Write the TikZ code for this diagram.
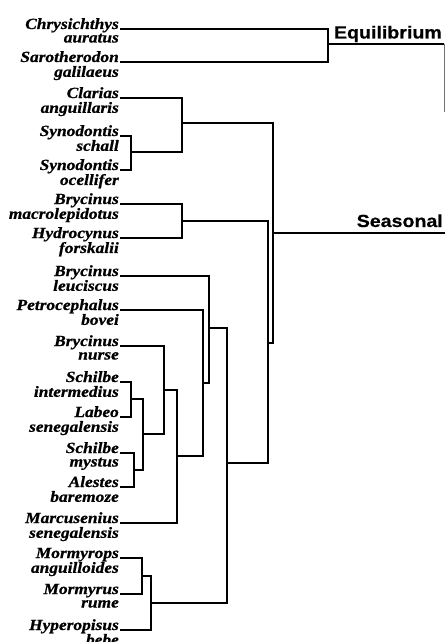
\documentclass[tikz,border=0pt]{standalone}
\usepackage{fontspec}
\setmainfont{Liberation Serif}
\newfontfamily\labfont[FakeStretch=1.12,FakeBold=0.8]{Liberation Serif}
\newfontfamily\grpfont[FakeStretch=1.12,FakeBold=0.5]{Liberation Sans}
\newcommand{\spname}[2]{\begin{tabular}[t]{@{}r@{}}#1\\#2\end{tabular}}
\begin{document}
\begin{tikzpicture}[x=1pt,y=-1pt,
  lab/.style={anchor=base east,inner sep=0pt,font=\labfont\bfseries\itshape\fontsize{15.5}{13.5}\selectfont},
  grp/.style={anchor=base east,inner sep=0pt,font=\grpfont\bfseries\fontsize{17.5}{20}\selectfont},
  br/.style={line width=1.6pt,line cap=rect},
  thinline/.style={line width=1pt,black!55}]
\useasboundingbox (0,0) rectangle (445,642);
% leaf labels and leaf coordinates
\foreach \n/\y/\a/\b in {
  1/29/Chrysichthys/auratus,
  2/62/Sarotherodon/galilaeus,
  3/98/Clarias/anguillaris,
  4/136/Synodontis/schall,
  5/170/Synodontis/ocellifer,
  6/204/Brycinus/macrolepidotus,
  7/238/Hydrocynus/forskalii,
  8/276/Brycinus/leuciscus,
  9/310/Petrocephalus/bovei,
  10/346/Brycinus/nurse,
  11/382/Schilbe/intermedius,
  12/417/Labeo/senegalensis,
  13/453/Schilbe/mystus,
  14/487/Alestes/baremoze,
  15/523/Marcusenius/senegalensis,
  16/558/Mormyrops/anguilloides,
  17/594/Mormyrus/rume,
  18/630/Hyperopisus/bebe}{
  \node[lab] (t\n) at (119,\y) {\spname{\a}{\b}};
  \coordinate (L\n) at (121,\y);
}
% internal nodes
\coordinate (E)  at (328,44);
\coordinate (S1) at (131,152);
\coordinate (S2) at (182,123);
\coordinate (S3) at (182,221);
\coordinate (A1) at (131,399);
\coordinate (A2) at (134,470);
\coordinate (A3) at (143,434);
\coordinate (A4) at (164,390);
\coordinate (A5) at (177,456);
\coordinate (A6) at (203,383);
\coordinate (A7) at (209,328);
\coordinate (M1) at (142,576);
\coordinate (M2) at (151,603);
\coordinate (A8) at (227,463);
\coordinate (B1) at (268,343);
\coordinate (B2) at (273,233);
\coordinate (eqend) at (444,44);
\coordinate (eqlow) at (444,112);
\coordinate (seend) at (445,233);
% brackets
\draw[br] (L1) -| (E) |- (L2);
\draw[br] (L4) -| (S1) |- (L5);
\draw[br] (L3) -| (S2) |- (S1);
\draw[br] (L6) -| (S3) |- (L7);
\draw[br] (L11) -| (A1) |- (L12);
\draw[br] (L13) -| (A2) |- (L14);
\draw[br] (A1) -| (A3) |- (A2);
\draw[br] (L10) -| (A4) |- (A3);
\draw[br] (A4) -| (A5) |- (L15);
\draw[br] (L9) -| (A6) |- (A5);
\draw[br] (L8) -| (A7) |- (A6);
\draw[br] (L16) -| (M1) |- (L17);
\draw[br] (M1) -| (M2) |- (L18);
\draw[br] (A7) -| (A8) |- (M2);
\draw[br] (S3) -| (B1) |- (A8);
\draw[br] (S2) -| (B2) |- (B1);
% root lines
\draw[line width=1.4pt] (E) -- (eqend);
\draw[thinline] (eqend) -- (eqlow);
\draw[line width=1.4pt] (B2) -- (seend);
\node[grp] (eq) at (442,38.5) {Equilibrium};
\node[grp] (se) at (443,227) {Seasonal};
\end{tikzpicture}
\end{document}
